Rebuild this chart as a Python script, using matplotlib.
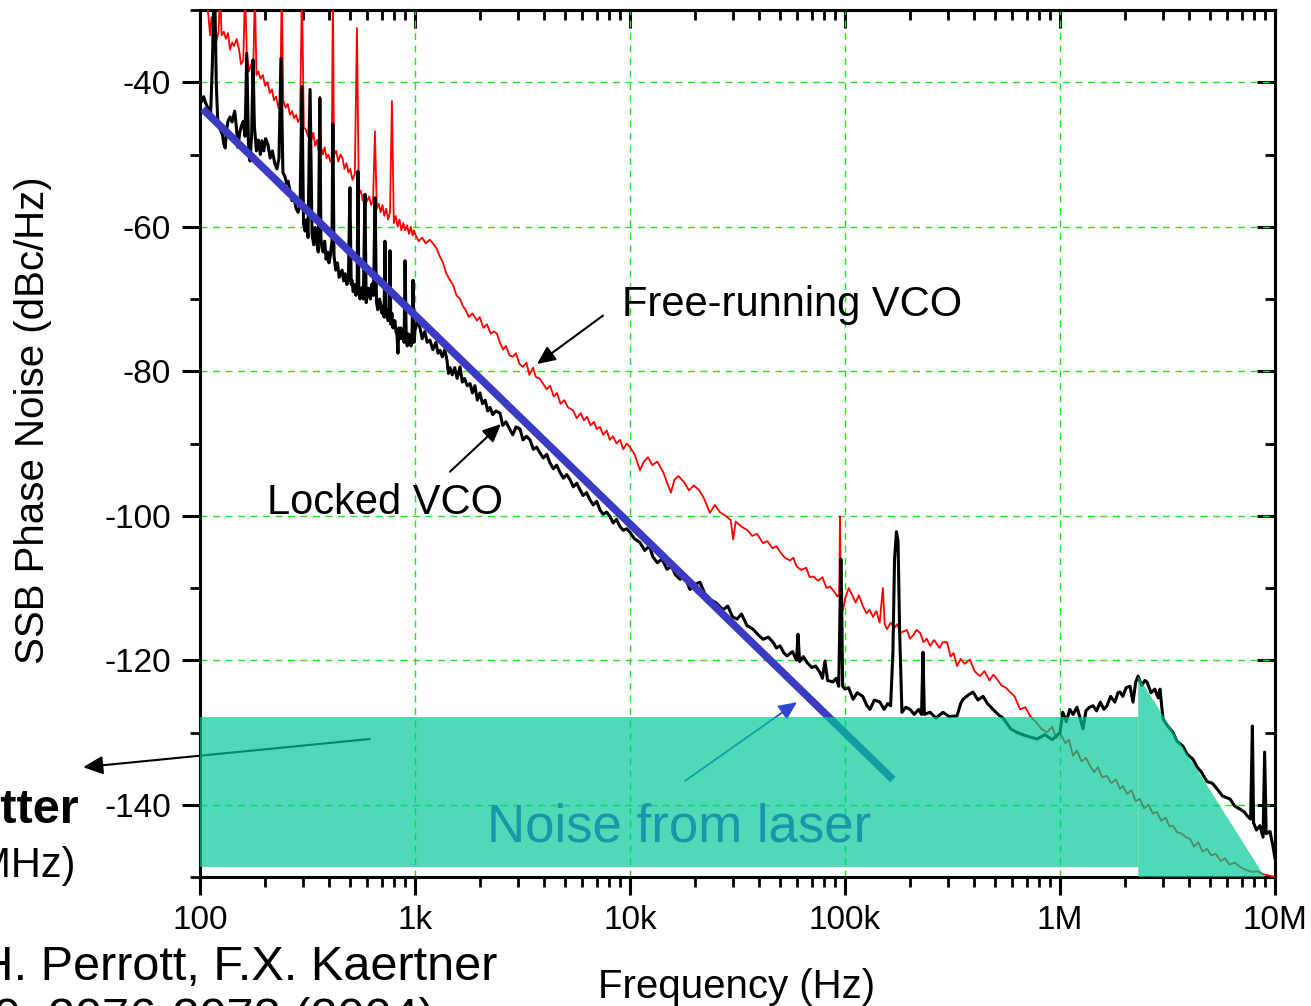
import numpy as np
import matplotlib
matplotlib.use('Agg')
import matplotlib.pyplot as plt
from matplotlib.ticker import LogLocator, NullFormatter, MultipleLocator, FixedLocator

plt.rcParams['font.family'] = ['Liberation Sans', 'DejaVu Sans']
plt.rcParams['axes.unicode_minus'] = False

# ---------------- data ----------------
xtick_vals = [1e2, 1e3, 1e4, 1e5, 1e6, 1e7]
xtick_labels = ['100', '1k', '10k', '100k', '1M', '10M']
ytick_vals = [-140, -120, -100, -80, -60, -40]
ytick_labels = ['-140', '-120', '-100', '-80', '-60', '-40']

# Locked VCO (black)
black_f = [100, 102, 104, 106, 109, 112, 114, 116, 117.5, 119, 121, 124, 127, 129, 131, 133, 135, 138, 141, 145,
           148, 150, 153, 156, 159, 162, 165, 168, 171, 174, 176.5, 179, 183, 187, 191, 194, 198, 202, 207, 212,
           217, 223, 228, 233, 238, 243, 248, 253, 257, 262, 268, 274, 280, 286, 292, 298, 303, 308, 313, 318,
           325, 332, 338, 343, 348, 355, 361, 365, 369, 374, 380, 386, 392, 398, 404, 411, 415, 420, 428, 436,
           444, 451, 458, 466, 474, 482, 490, 498, 505, 509, 516, 524, 531, 538, 543, 548, 555, 561, 567, 575,
           585, 593, 600, 610, 621, 631, 641, 652, 662, 672, 684, 695, 702, 710, 718, 725, 733, 741, 750, 758,
           765, 772, 781, 790, 799, 807, 815, 825, 833, 841, 850, 860, 870, 880, 890, 899, 910, 920, 928, 938,
           948, 958, 968, 979, 990,
           1000, 1030, 1055, 1080, 1110, 1140, 1174, 1210, 1250, 1280, 1307, 1340, 1375, 1409, 1430, 1455, 1490,
           1530, 1570, 1619, 1660, 1700, 1750, 1803, 1850, 1900, 1950, 2006, 2060, 2120, 2180, 2233, 2300, 2380,
           2485, 2560, 2650, 2766, 2850, 2950, 3079, 3180, 3300, 3427, 3550, 3680, 3815, 3950, 4100, 4246, 4400,
           4560, 4726, 4900, 5080, 5260, 5450, 5650, 5853, 6050, 6280, 6516, 6750, 7000, 7254, 7500, 7780, 8072,
           8350, 8650, 8985, 9300, 9650,
           10000, 10500, 11130, 11700, 12300, 12790, 13400, 14100, 14860, 15600, 16300, 17090, 17900, 19010,
           20000, 21160, 22300, 23550, 25000, 27080, 28500, 30000, 31460, 33000, 35000, 37330, 39500, 41550,
           44000, 46240, 48000, 49850, 52000, 53740, 57000, 59500, 60450, 61500, 64000, 66560, 70000, 73000,
           76520, 78500, 80720, 83000, 87900, 91000, 93500, 95000, 95700, 96500, 97500,
           100000, 104000, 109000, 114000, 121000, 126000, 130700, 137000, 145500, 152000, 158000, 163000,
           167000, 170000, 173500, 176500, 179500, 184000, 192000, 200600, 210000, 220000, 227000, 230500,
           234000, 248500, 265000, 285600, 305000, 331900, 345000, 354000, 375000, 393900, 415000, 438500,
           460000, 488000, 515000, 543000, 590000, 631000, 700000, 781600, 850000, 920000,
           1000000, 1030000, 1070000, 1110000, 1150000, 1200000, 1240000, 1279000, 1320000, 1370000, 1424000,
           1480000, 1540000, 1600000, 1654000, 1720000, 1800000, 1860000, 1901000, 1960000, 2030000, 2117000,
           2185000, 2250000, 2306000, 2400000, 2480000, 2539000, 2650000, 2760000, 2860000, 2918000, 3013000,
           3150000, 3355000, 3500000, 3733000, 3900000, 4155000, 4350000, 4550000, 4828000, 5100000, 5374000,
           5700000, 6177000, 6500000, 6873000, 7200000, 7410000, 7700000, 7850000, 7950000, 8200000, 8510000,
           8800000, 8950000, 9100000, 9480000, 9750000, 10000000]
black_db = [-43.0, -42.6, -42.0, -42.8, -43.6, -44.5, -38.0, -28.0, -30.0, -40.0, -45.5, -46.5, -47.2, -48.5, -49.1,
            -46.5, -45.4, -44.8, -45.5, -44.0, -46.5, -49.0, -47.0, -46.0, -45.4, -47.5, -36.0, -48.5, -50.9, -47.0,
            -36.9, -46.0, -49.5, -48.0, -50.0, -48.1, -49.5, -47.8, -48.6, -50.5, -49.5, -51.3, -52.0, -50.5, -36.7,
            -52.5, -53.0, -54.0, -53.7, -55.0, -56.4, -56.0, -57.5, -58.0, -57.0, -40.6, -59.5, -60.6, -59.0, -61.5,
            -41.0, -61.0, -62.5, -60.1, -62.0, -63.5, -42.2, -61.5, -62.9, -63.5, -62.0, -64.5, -63.5, -65.0, -64.0,
            -61.9, -45.8, -64.0, -66.0, -65.0, -67.0, -66.5, -66.0, -67.5, -66.5, -68.0, -67.4, -54.6, -68.0, -67.4,
            -69.0, -68.0, -69.5, -68.5, -52.3, -69.0, -70.0, -68.8, -68.4, -70.0, -55.5, -70.5, -69.5, -68.5, -70.0,
            -67.9, -69.5, -56.0, -70.5, -71.5, -70.0, -71.0, -72.0, -71.0, -72.5, -62.0, -72.5, -71.5, -73.0, -72.0,
            -63.3, -73.5, -72.0, -74.0, -73.0, -73.0, -74.5, -75.0, -77.5, -74.0, -75.5, -74.0, -75.5, -74.5, -76.0,
            -64.7, -75.0, -76.5, -74.8, -76.0, -75.0, -76.5, -75.5, -67.4, -76.0,
            -74.3, -73.0, -74.0, -75.5, -74.5, -76.0, -75.7, -77.0, -76.0, -77.5, -77.1, -78.0, -77.0, -78.5, -80.3,
            -79.5, -80.5, -79.5, -81.0, -79.4, -81.5, -81.0, -82.0, -81.7, -83.0, -82.0, -84.0, -83.0, -84.5, -84.0,
            -85.5, -85.0, -86.0, -85.5, -85.8, -87.5, -87.0, -88.1, -88.8, -87.7, -88.0, -89.5, -89.0, -89.5, -90.8,
            -90.5, -91.3, -92.0, -91.5, -92.7, -93.5, -93.0, -94.0, -94.8, -94.3, -95.0, -96.0, -95.5, -96.4, -97.2,
            -96.8, -97.8, -98.5, -98.0, -99.2, -99.8, -99.5, -100.1, -101.0, -100.5, -101.5, -102.0, -101.8,
            -102.3, -103.2, -103.7, -104.8, -104.2, -105.7, -106.5, -106.0, -107.4, -107.0, -108.2, -108.8, -108.3,
            -110.2, -109.5, -109.2, -110.8, -111.6, -112.0, -113.0, -112.5, -114.0, -114.3, -113.6, -115.2, -115.7,
            -116.5, -117.1, -116.8, -117.5, -118.3, -118.0, -119.0, -119.4, -118.8, -120.0, -116.4, -120.2, -119.5,
            -120.3, -121.0, -120.8, -121.7, -122.5, -120.1, -122.8, -123.0, -122.5, -123.6, -112.0, -106.0, -112.0,
            -123.6,
            -124.0, -123.8, -125.4, -124.5, -125.0, -126.2, -126.8, -125.5, -125.8, -126.8, -126.0, -126.3, -119.0,
            -106.0, -102.2, -103.5, -116.0, -127.2, -126.5, -126.8, -127.5, -126.8, -127.5, -118.9, -127.5, -127.2,
            -128.0, -127.2, -127.8, -127.7, -126.0, -125.4, -124.8, -124.4, -125.5, -125.0, -126.0, -126.8, -127.5,
            -128.0, -129.5, -130.0, -130.5, -130.9, -130.3, -131.0,
            -130.0, -127.2, -128.5, -126.8, -127.5, -126.5, -128.0, -129.5, -127.0, -126.5, -126.3, -127.0, -125.8,
            -126.8, -126.3, -125.0, -125.8, -124.5, -124.4, -125.0, -123.8, -123.6, -125.8, -123.0, -122.2, -123.5,
            -122.8, -123.0, -124.5, -124.0, -125.2, -124.0, -128.1, -129.0, -130.0, -131.2, -131.9, -133.0, -133.7,
            -134.8, -135.5, -136.8, -137.0, -137.8, -138.8, -139.2, -140.2, -140.6, -141.0, -141.5, -142.0, -129.1,
            -142.5, -143.5, -142.9, -144.5, -132.7, -144.0, -143.7, -145.5, -147.4]

# Free-running VCO (red)
red_f = [108, 110, 111.5, 113, 116, 119, 122, 124, 126, 129, 132, 135, 138, 141, 144, 148, 152, 155, 159, 162,
         165, 169, 173, 177, 180, 183, 187, 191, 196, 201, 206, 211, 216, 221, 226, 232, 236, 240, 244, 250, 256,
         262, 268, 274, 280, 286, 292, 298, 304, 310, 318, 325, 330, 337, 343, 350, 356, 361, 366, 373, 380, 388,
         396, 404, 410, 415, 420, 430, 440, 450, 460, 470, 480, 490, 500, 512, 525, 537, 548, 560, 572, 585, 598,
         612, 625, 638, 651, 664, 678, 692, 706, 720, 735, 750, 765, 781, 797, 813, 830, 847, 864, 882, 900, 918,
         937, 956, 975, 990,
         1000, 1040, 1080, 1120, 1170, 1212, 1260, 1300, 1350, 1400, 1455, 1500, 1560, 1620, 1672, 1720, 1780,
         1850, 1943, 2000, 2080, 2160, 2250, 2330, 2406, 2480, 2567, 2650, 2750, 2850, 2950, 3060, 3179, 3300,
         3400, 3539, 3650, 3800, 3939, 4100, 4250, 4420, 4576, 4750, 4950, 5150, 5433, 5650, 5900, 6100, 6310,
         6550, 6800, 7000, 7254, 7500, 7800, 8050, 8337, 8650, 9000, 9300, 9650,
         10000, 10500, 11130, 11600, 12130, 12700, 13400, 14300, 14900, 15500, 16100, 16800, 17900, 18800, 19800,
         20900, 22000, 23550, 24800, 26200, 27800, 29400, 30200, 31000, 33000, 35200, 37000, 39000, 41550, 43500,
         46000, 48000, 49850, 52500, 55500, 57500, 59500, 62500, 66000, 68500, 71200, 75000, 78500, 82000, 85200,
         89000, 92500, 94000, 94800, 95600, 98000,
         100000, 104000, 108000, 112000, 116000, 121000, 126000, 130000, 135000, 140000, 145000, 150000, 153000,
         156800, 163000, 170000, 175000, 180300, 188000, 194000, 200600, 208000, 215000, 223300, 232000, 240000,
         248500, 260000, 275000, 285000, 298200, 310000, 320000, 331900, 345000, 360000, 381500, 400000, 424600,
         445000, 470000, 490000, 509300, 535000, 560000, 585300, 615000, 651600, 690000, 725400, 770000, 820000,
         870000, 920000, 960000,
         1000000, 1060000, 1100000, 1149000, 1200000, 1260000, 1320000, 1379000, 1440000, 1500000, 1570000,
         1654000, 1730000, 1820000, 1900000, 1963000, 2050000, 2150000, 2250000, 2355000, 2460000, 2580000,
         2700000, 2825000, 2950000, 3100000, 3230000, 3355000, 3500000, 3680000, 3850000, 4025000, 4200000,
         4400000, 4600000, 4828000, 5050000, 5300000, 5600000, 5853000, 6150000, 6500000, 6873000, 7300000,
         7800000, 8247000, 8800000, 9400000, 10000000]
red_db = [-29.0, -31.5, -33.5, -31.0, -33.0, -34.5, -33.0, -27.0, -33.5, -33.0, -34.0, -33.2, -35.5, -34.5, -35.0,
          -34.0, -35.5, -37.5, -37.0, -27.0, -36.0, -38.5, -37.5, -38.0, -27.0, -39.0, -38.5, -39.5, -39.0, -40.5,
          -40.0, -41.5, -41.0, -42.5, -42.0, -43.6, -42.5, -27.0, -42.6, -43.5, -43.0, -44.5, -44.0, -45.0, -44.5,
          -45.5, -45.0, -27.0, -46.3, -46.5, -47.5, -41.0, -48.0, -47.0, -48.8, -48.0, -49.5, -42.0, -49.0, -50.0,
          -49.0, -50.5, -50.0, -51.0, -50.5, -27.0, -50.0, -49.5, -51.0, -50.0, -50.5, -52.0, -51.2, -52.5, -52.0,
          -53.5, -52.7, -32.5, -55.5, -55.0, -56.4, -55.5, -56.5, -55.8, -57.0, -56.4, -46.8, -57.5, -56.8, -58.0,
          -57.0, -58.5, -57.5, -59.0, -58.0, -42.6, -59.5, -58.5, -60.0, -59.0, -60.5, -59.5, -60.5, -59.8, -61.0,
          -60.0, -61.2, -60.5,
          -61.0, -62.0, -61.5, -62.3, -61.8, -62.3, -63.0, -64.0, -65.0, -66.5, -67.4, -68.0, -69.5, -70.0, -71.0,
          -71.5, -72.5, -72.0, -73.0, -72.5, -74.0, -73.5, -74.8, -74.5, -74.8, -76.0, -77.0, -76.5, -77.8, -78.0,
          -77.5, -79.0, -79.4, -78.8, -80.5, -79.5, -80.8, -81.0, -81.7, -82.5, -82.0, -83.5, -83.0, -84.5, -84.0,
          -85.0, -85.4, -86.5, -85.8, -86.8, -86.3, -87.5, -87.0, -88.0, -87.7, -88.8, -88.2, -89.5, -89.0, -90.0,
          -89.5, -90.8, -90.0,
          -90.5, -91.5, -93.7, -92.5, -91.9, -93.0, -92.5, -94.0, -95.5, -96.8, -95.0, -94.5, -95.4, -96.5, -95.8,
          -96.4, -97.5, -99.6, -98.5, -99.5, -100.0, -100.6, -103.3, -100.8, -101.5, -102.0, -102.8, -102.5, -103.8,
          -103.5, -104.5, -104.2, -105.0, -105.8, -106.2, -105.8, -107.0, -107.5, -107.2, -108.5, -108.4, -109.0,
          -108.5, -110.0, -109.8, -110.5, -111.2, -110.8, -100.1, -111.5, -113.0,
          -111.5, -110.0, -111.0, -112.0, -111.0, -112.5, -113.5, -113.0, -114.0, -113.2, -114.8, -110.0, -115.0,
          -115.7, -114.8, -115.5, -115.0, -116.2, -116.0, -115.8, -117.0, -116.5, -115.8, -116.2, -117.5, -117.0,
          -118.0, -117.2, -118.3, -117.5, -117.5, -119.5, -119.0, -120.8, -119.8, -120.5, -119.9, -121.5, -122.2,
          -121.5, -122.8, -122.0, -122.6, -123.5, -123.8, -124.4, -125.0, -126.8, -126.5, -127.7, -128.5, -129.5,
          -130.0, -129.2, -130.8,
          -130.0, -131.5, -131.0, -133.2, -132.5, -134.0, -133.5, -134.6, -135.5, -134.8, -136.2, -136.0, -137.0,
          -136.5, -137.8, -137.4, -138.5, -138.0, -139.5, -139.2, -140.5, -140.0, -141.2, -141.0, -142.2, -141.8,
          -143.0, -142.9, -143.8, -144.0, -144.5, -144.7, -145.8, -145.2, -146.5, -146.1, -147.0, -146.8, -147.8,
          -147.4, -148.3, -148.0, -148.6, -149.0, -149.3, -149.2, -149.6, -149.8, -150.0]

# 1/f^3 guide line (blue) and laser noise region (green)
laser_line_f = [103, 167000]
laser_line_db = [-43.7, -136.5]
laser_rect_f = [100, 2.31e6]
laser_rect_db = [-127.9, -148.6]
laser_tri_f = [2.31e6, 8.97e6, 2.31e6]
laser_tri_db = [-122.2, -150.0, -150.0]

# ---------------- figure ----------------
W, H = 1311, 1006
fig = plt.figure(figsize=(W / 100, H / 100), dpi=100)
ax = fig.add_axes([200 / W, 129 / H, 1075 / W, 867 / H])
ax.set_xscale('log')
ax.set_xlim(100, 1e7)
ax.set_ylim(-150, -30)

grid_kw = dict(color='#22e622', lw=1.0, linestyle=(0, (5, 4)))
ax.set_axisbelow(True)
ax.grid(True, which='major', **grid_kw)

ax.plot(red_f, red_db, color='#ff0000', lw=1.3, zorder=3)
ax.plot(black_f, black_db, color='black', lw=2.2, zorder=4)
ax.plot(laser_line_f, laser_line_db, color='#3a3ac2', lw=5.5, solid_capstyle='butt', zorder=5)

green = '#00c997'
ax.fill_between(laser_rect_f, laser_rect_db[1], laser_rect_db[0], color=green, alpha=0.69, lw=0, zorder=7)
ax.fill(laser_tri_f, laser_tri_db, color=green, alpha=0.69, lw=0, zorder=7)

# ticks
ax.set_xticks(xtick_vals)
ax.set_xticklabels(xtick_labels)
ax.xaxis.set_minor_locator(LogLocator(base=10, subs=np.arange(2, 10)))
ax.xaxis.set_minor_formatter(NullFormatter())
ax.set_yticks(ytick_vals)
ax.set_yticklabels(ytick_labels)
ax.yaxis.set_minor_locator(MultipleLocator(10))
ax.tick_params(which='major', direction='out', length=13, width=2.2, labelsize=24, pad=7,
               top=False, right=False)
ax.tick_params(axis='y', which='major', pad=8)
ax.tick_params(which='minor', direction='out', length=7, width=2.0, top=False, right=False)
for s in ax.spines.values():
    s.set_linewidth(2.2)

secx = ax.secondary_xaxis('top')
secx.set_xticks(xtick_vals)
secx.xaxis.set_major_formatter(NullFormatter())
secx.xaxis.set_minor_locator(LogLocator(base=10, subs=np.arange(2, 10)))
secx.xaxis.set_minor_formatter(NullFormatter())
secx.tick_params(which='major', direction='in', length=13, width=2.2, labeltop=False)
secx.tick_params(which='minor', direction='in', length=7, width=2.0)
secx.spines['top'].set_linewidth(2.2)

secy = ax.secondary_yaxis('right')
secy.set_yticks(ytick_vals)
secy.yaxis.set_major_formatter(NullFormatter())
secy.yaxis.set_minor_locator(MultipleLocator(10))
secy.tick_params(which='major', direction='in', length=13, width=2.2, labelright=False)
secy.tick_params(which='minor', direction='in', length=7, width=2.0)
secy.spines['right'].set_linewidth(2.2)

# annotations
ax.text(9180, -72.3, 'Free-running VCO', fontsize=30, ha='left', va='baseline', zorder=9)
ax.annotate('', xy=(3693, -79.0), xytext=(7485, -72.3),
            arrowprops=dict(arrowstyle='-|>,head_length=0.55,head_width=0.25', mutation_scale=20,
                            color='black', lw=1.5, shrinkA=0, shrinkB=0), zorder=6)
ax.text(205, -99.7, 'Locked VCO', fontsize=30, ha='left', va='baseline', zorder=9)
ax.annotate('', xy=(2512, -87.3), xytext=(1455, -93.9),
            arrowprops=dict(arrowstyle='-|>,head_length=0.55,head_width=0.25', mutation_scale=20,
                            color='black', lw=1.5, shrinkA=0, shrinkB=0), zorder=6)
ax.text(2162, -145.1, 'Noise from laser', fontsize=38, color='#1896aa', ha='left', va='baseline', zorder=9)
ax.annotate('', xy=(59800, -125.8), xytext=(18030, -136.7),
            arrowprops=dict(arrowstyle='-|>,head_length=0.55,head_width=0.25', mutation_scale=20,
                            color='#2c48d0', lw=1.3, shrinkA=0, shrinkB=0), zorder=6)
ax.annotate('', xy=(28.6, -134.8), xytext=(617.6, -130.9), annotation_clip=False,
            arrowprops=dict(arrowstyle='-|>,head_length=0.6,head_width=0.28', mutation_scale=20,
                            color='black', lw=1.5, shrinkA=0, shrinkB=0), zorder=6)

# outside texts (partly cut by the figure edge as in the source slide)
fig.text(79 / W, (H - 823) / H, 'Timing Jitter', fontsize=35, fontweight='bold', ha='right', va='baseline')
fig.text(76 / W, (H - 877) / H, '(10 kHz - 10 MHz)', fontsize=30, ha='right', va='baseline')
fig.text(497 / W, (H - 980) / H, 'J. Kim, M.H. Perrott, F.X. Kaertner', fontsize=35, ha='right', va='baseline')
fig.text(435 / W, (H - 1032) / H, 'Opt. Lett. 29, 2076-2078 (2004)', fontsize=35, ha='right', va='baseline')
fig.text(737 / W, (H - 998) / H, 'Frequency (Hz)', fontsize=29, ha='center', va='baseline')
fig.text(33 / W, (H - 420) / H, 'SSB Phase Noise (dBc/Hz)', fontsize=29, rotation=90, ha='center', va='center')

fig.savefig('out.png', dpi=100)
